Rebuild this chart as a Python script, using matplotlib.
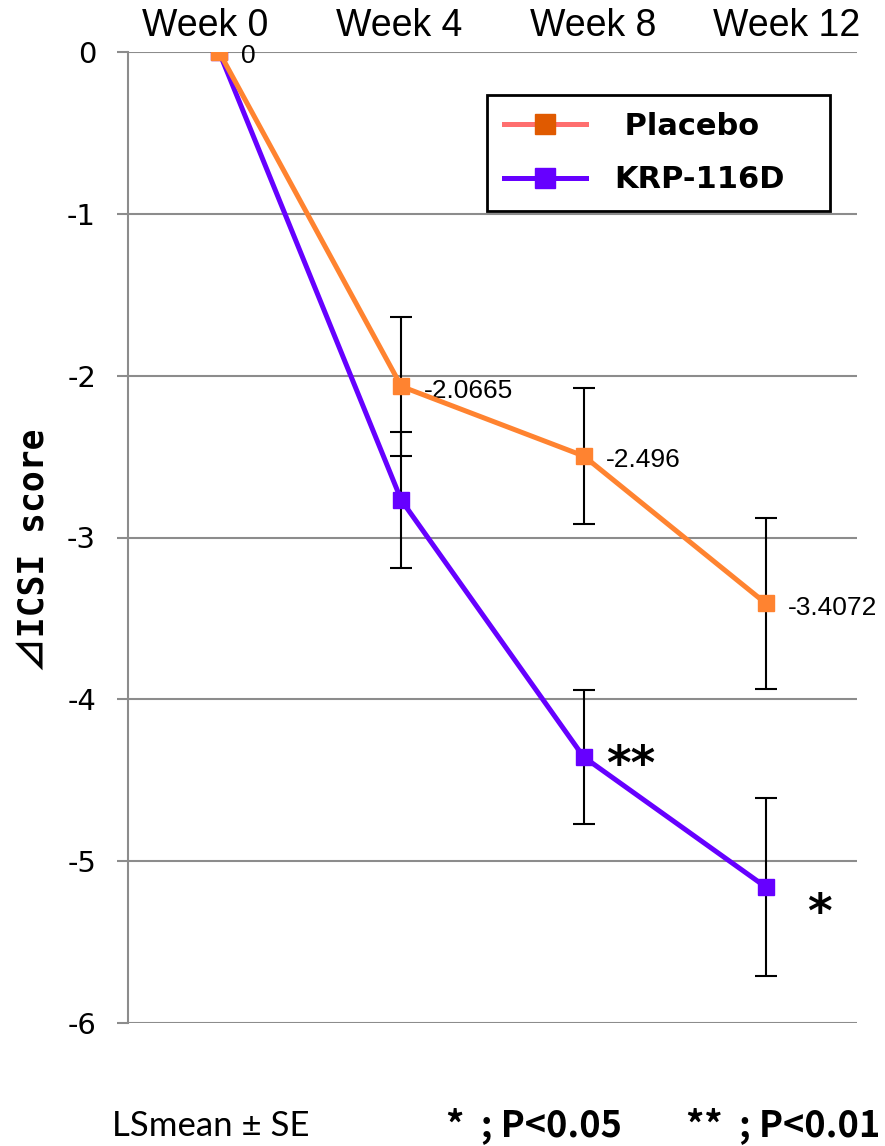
import matplotlib
matplotlib.use("Agg")
import matplotlib.pyplot as plt
from matplotlib.lines import Line2D

weeks = ["Week 0", "Week 4", "Week 8", "Week 12"]
placebo = [0, -2.0665, -2.496, -3.4072]
placebo_se = [0, 0.43, 0.42, 0.53]
krp = [0, -2.77, -4.356, -5.16]
krp_se = [0, 0.42, 0.415, 0.55]
value_labels = ["0", "-2.0665", "-2.496", "-3.4072"]

c_placebo = "#FF8330"
c_krp = "#6600FF"
grid_c = "#8C8C8C"

fig = plt.figure(figsize=(8.85, 11.46), dpi=100)
ax = fig.add_axes([128/885, 1-1023/1146, (857-128)/885, (1023-52)/1146])

x = list(range(len(weeks)))

# error bars (none at week 0)
ax.errorbar(x[1:], krp[1:], yerr=krp_se[1:], fmt="none", ecolor="black",
            elinewidth=1.5, capsize=8, capthick=1.5, zorder=3)
ax.errorbar(x[1:], placebo[1:], yerr=placebo_se[1:], fmt="none", ecolor="black",
            elinewidth=1.5, capsize=8, capthick=1.5, zorder=3)

ax.plot(x, krp, color=c_krp, lw=3.6, marker="s", ms=11, zorder=4)
ax.plot(x, placebo, color=c_placebo, lw=3.6, marker="s", ms=11, zorder=5)

for xi, yi, lab in zip(x, placebo, value_labels):
    ax.annotate(lab, (xi, yi), xytext=(16, -3), textcoords="offset points",
                ha="left", va="center", fontsize=19, family="Liberation Sans")

# significance marks
ax.annotate("**", (x[2], krp[2]), xytext=(16, -7), textcoords="offset points",
            ha="left", va="center", fontsize=34, fontweight="bold", family="DejaVu Sans")
ax.annotate("*", (x[3], krp[3]), xytext=(30, -20), textcoords="offset points",
            ha="left", va="center", fontsize=34, fontweight="bold", family="DejaVu Sans")

ax.set_xlim(-0.5, 3.5)
ax.set_ylim(-6, 0)
ax.set_yticks(range(-6, 1))
ax.set_yticklabels([str(v) for v in range(-6, 1)], fontsize=21, family="DejaVu Sans")
ax.set_xticks([])
ax.tick_params(axis="y", length=8, width=1.5, color=grid_c, pad=15)
ax.yaxis.grid(True, color=grid_c, lw=1.5)
ax.set_axisbelow(True)
for side in ["top", "right", "bottom"]:
    ax.spines[side].set_visible(False)
ax.spines["left"].set_color(grid_c)
ax.spines["left"].set_linewidth(1.5)

# category labels sit on a slightly wider band than the plot area
lab_ax = fig.add_axes([108/885, 1-52/1146, 776/885, 0.001])
lab_ax.set_xlim(-0.5, 3.5)
lab_ax.set_xticks(x)
lab_ax.set_xticklabels(weeks, fontsize=27, family="Liberation Sans")
lab_ax.xaxis.tick_top()
lab_ax.tick_params(axis="x", length=0, pad=5)
lab_ax.set_yticks([])
lab_ax.patch.set_visible(False)
for s in lab_ax.spines.values():
    s.set_visible(False)

fig.text(35/885, 1-550/1146, "⊿ICSI score", rotation=90, ha="center", va="center",
         fontsize=25, fontweight="bold", family=["DejaVu Sans Mono", "Noto Sans CJK JP"])

handles = [
    Line2D([], [], color="#FF6F6F", lw=3.6, marker="s", ms=15,
           markerfacecolor="#E05A00", markeredgecolor="#E05A00"),
    Line2D([], [], color=c_krp, lw=3.6, marker="s", ms=15),
]
leg = ax.legend(handles, [" Placebo", "KRP-116D"], loc="upper left",
                bbox_to_anchor=(487/885, 1-95/1146, 343/885, 0.0),
                bbox_transform=fig.transFigure, mode="expand",
                borderaxespad=0, frameon=True, fancybox=False, handlelength=2.7,
                handletextpad=0.9, labelspacing=0.8, borderpad=0.55,
                prop={"family": "DejaVu Sans", "weight": "bold", "size": 22})
leg.get_frame().set_edgecolor("black")
leg.get_frame().set_linewidth(2)
leg.get_frame().set_alpha(1)

foot = ["Noto Sans CJK JP", "DejaVu Sans"]
fig.text(112/885, 1-1126/1146, "LSmean ± SE", ha="left", va="center",
         fontsize=25, family=["Lato", "DejaVu Sans"])
fig.text(446/885, 1-1126/1146, "*  ; P<0.05", ha="left", va="center",
         fontsize=26, fontweight="bold", family=foot)
fig.text(880/885, 1-1126/1146, "**  ; P<0.01", ha="right", va="center",
         fontsize=26, fontweight="bold", family=foot)

fig.savefig("out.png", dpi=100)
